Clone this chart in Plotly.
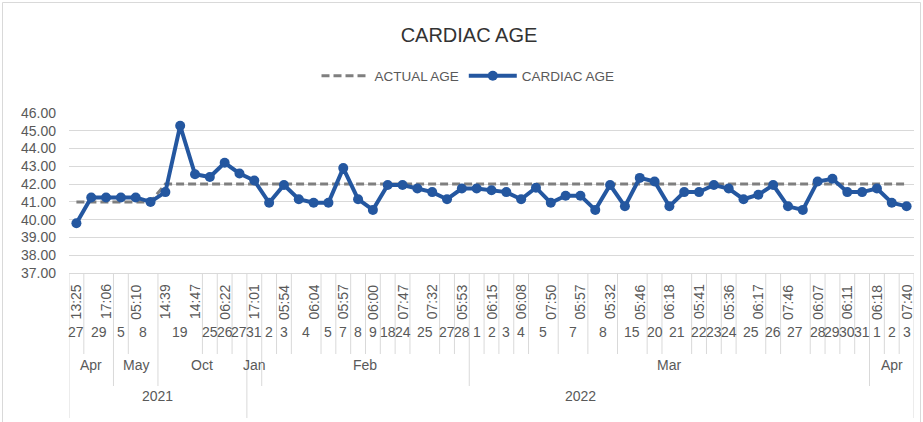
import plotly.graph_objects as go

# ---------------- data ----------------
years = ["2021"] * 12 + ["2022"] * 45
months = (["Apr"] * 3 + ["May"] * 3 + ["Oct"] * 6 + ["Jan"] * 1 +
          ["Feb"] * 14 + ["Mar"] * 27 + ["Apr"] * 3)
days = [27, 29, 29, 5, 8, 8, 19, 19, 19, 25, 26, 27,
        31,
        2, 3, 4, 4, 5, 7, 8, 9, 18, 24, 25, 25, 27, 28,
        1, 2, 3, 4, 5, 5, 7, 7, 8, 8, 15, 15, 20, 21, 21,
        22, 23, 24, 25, 25, 26, 27, 27, 28, 29, 30, 31,
        1, 2, 3]
# time labels that are shown (every other point)
time_labels = ["13:25", "17:06", "05:10", "14:39", "14:47", "06:22", "17:01",
               "05:54", "06:04", "05:57", "06:00", "07:47", "07:32", "05:53",
               "06:15", "06:08", "07:50", "05:57", "05:32", "05:46", "06:18",
               "05:41", "05:36", "06:17", "07:46", "06:07", "06:11", "06:18",
               "07:40"]
cardiac_age = [39.80, 41.25, 41.25, 41.25, 41.25, 41.00, 41.55, 45.28, 42.55,
               42.40, 43.20, 42.60, 42.20, 40.95, 41.95, 41.15, 40.95, 40.95,
               42.90, 41.15, 40.55, 41.95, 41.95, 41.75, 41.55, 41.15, 41.75,
               41.75, 41.65, 41.55, 41.15, 41.80, 40.95, 41.35, 41.35, 40.55,
               41.95, 40.75, 42.35, 42.15, 40.75, 41.55, 41.55, 41.95, 41.75,
               41.15, 41.40, 41.95, 40.75, 40.55, 42.15, 42.30, 41.55, 41.55,
               41.75, 40.95, 40.75]
actual_age = [41] * 6 + [42] * 51
y_ticks = [37, 38, 39, 40, 41, 42, 43, 44, 45, 46]

n = len(cardiac_age)
xs = list(range(n))

FONT = "Liberation Sans"
TXT = "#595959"
GRID = "#d9d9d9"

fig = go.Figure()
fig.add_trace(go.Scatter(
    x=xs, y=actual_age, name="ACTUAL AGE", mode="lines",
    line=dict(color="#7f7f7f", width=3, dash="8px,4px")))
fig.add_trace(go.Scatter(
    x=xs, y=cardiac_age, name="CARDIAC AGE", mode="lines+markers",
    line=dict(color="#2457a0", width=4),
    marker=dict(color="#2457a0", size=10)))

PH = 160.0  # plot height px


def py(pix):
    # convert pixel y (from figure top) to paper coords
    return (273 - pix) / PH


annotations = []
shapes = []

# time labels (rotated)
for k, lab in enumerate(time_labels):
    annotations.append(dict(x=2 * k, xref="x", y=py(302), yref="paper",
                            text=lab, textangle=-90, showarrow=False,
                            font=dict(family=FONT, size=14, color=TXT),
                            xanchor="center", yanchor="middle"))


def groups(keys):
    out = []
    start = 0
    for i in range(1, n + 1):
        if i == n or keys[i] != keys[start]:
            out.append((start, i - 1))
            start = i
    return out


day_keys = list(zip(years, months, days))
mon_keys = list(zip(years, months))
for s, e in groups(day_keys):
    annotations.append(dict(x=(s + e) / 2, xref="x", y=py(342), yref="paper",
                            text=str(days[s]), showarrow=False,
                            font=dict(family=FONT, size=14, color=TXT)))
for s, e in groups(mon_keys):
    annotations.append(dict(x=(s + e) / 2, xref="x", y=py(375), yref="paper",
                            text=months[s], showarrow=False,
                            font=dict(family=FONT, size=14, color=TXT)))
for s, e in groups(years):
    annotations.append(dict(x=(s + e) / 2, xref="x", y=py(406), yref="paper",
                            text=years[s], showarrow=False,
                            font=dict(family=FONT, size=14, color=TXT)))

# separator lines
for i in range(n + 1):
    if i == 0 or i == n or years[i] != years[i - 1]:
        bottom = 418
    elif months[i] != months[i - 1]:
        bottom = 386
    elif days[i] != days[i - 1]:
        bottom = 354
    else:
        continue
    shapes.append(dict(type="line", xref="x", yref="paper",
                       x0=i - 0.5, x1=i - 0.5, y0=0, y1=py(bottom),
                       line=dict(color=GRID, width=1)))

# chart area border
shapes.append(dict(type="rect", xref="paper", yref="paper",
                   x0=(2.5 - 69) / 845, x1=(920.5 - 69) / 845,
                   y0=py(425), y1=py(2.5),
                   line=dict(color=GRID, width=1)))

fig.update_layout(
    width=923, height=422, autosize=False,
    margin=dict(l=69, r=9, t=113, b=149),
    paper_bgcolor="white", plot_bgcolor="white",
    title=dict(text="CARDIAC AGE", x=469 / 923, xref="container", xanchor="center",
               y=1 - 35 / 422, yref="container", yanchor="middle",
               font=dict(family=FONT, size=20, color="#333333")),
    legend=dict(orientation="h", x=(468 - 69) / 845, xanchor="center",
                y=py(76), yanchor="middle", itemwidth=48,
                font=dict(family=FONT, size=13.5, color=TXT),
                bgcolor="rgba(0,0,0,0)"),
    xaxis=dict(range=[-0.5, n - 0.5], showticklabels=False, showgrid=False,
               zeroline=False, showline=True, linecolor=GRID, linewidth=1,
               fixedrange=True),
    yaxis=dict(range=[37, 46], tickvals=y_ticks, tickformat=".2f",
               showgrid=True, gridcolor=GRID, gridwidth=1, zeroline=False,
               showline=False, ticklabelstandoff=12,
               tickfont=dict(family=FONT, size=14, color=TXT), fixedrange=True),
    annotations=annotations, shapes=shapes, showlegend=True,
)

fig.write_html("out.html",
               config={"displayModeBar": False},
               post_script="document.body.style.margin='0';"
                           "document.body.style.overflow='hidden';")
